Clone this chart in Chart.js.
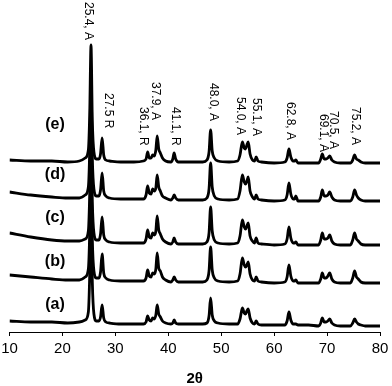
<!DOCTYPE html>
<html>
<head>
<meta charset="utf-8">
<script src="https://cdn.jsdelivr.net/npm/chart.js@4.4.1/dist/chart.umd.min.js"></script>
<style>
  html, body { margin: 0; padding: 0; background: #fff; }
  #wrap { width: 392px; height: 386px; }
</style>
</head>
<body>
<div id="wrap"><canvas id="xrdChart" width="392" height="386"></canvas></div>
<script>
// 2θ positions (shared by all patterns)
const twoTheta = [10, 14, 18, 21, 23.2, 24.3, 24.9, 25.15, 25.4, 25.65, 25.95, 26.4, 26.9, 27.2, 27.5, 27.8, 28.2, 28.9,
    31, 33.5, 35.3, 35.8, 36.1, 36.4, 36.75, 37.05, 37.35, 37.65, 37.9, 38.2, 38.5, 38.9, 39.5, 40.5, 40.85, 41.1, 41.4, 41.9,
    44, 46.5, 47.3, 47.7, 48.0, 48.3, 48.7, 49.4, 51.5, 53.1, 53.55, 54.0, 54.35, 54.6, 54.85, 55.1, 55.45, 55.9, 56.3, 56.6,
    56.95, 57.6, 60, 62.0, 62.45, 62.8, 63.15, 63.6, 63.85, 64.1, 64.5, 66.5, 68.4, 68.8, 69.1, 69.45, 69.8, 70.15, 70.5,
    70.9, 71.4, 72.5, 74.4, 74.85, 75.2, 75.55, 75.9, 76.4, 77.2, 80];

// intensities (a.u., stacked with offsets)
const patternA = [11, 10, 10, 9, 10, 12, 20, 56, 128, 50, 18, 11, 11, 15, 27, 14, 10, 9,
    8, 8, 8, 10, 16, 12, 11, 14, 13, 17, 27, 18, 15, 11, 9, 8, 9, 12, 9, 8,
    8, 8, 9, 16, 34, 17, 11, 9, 8, 8, 13, 24, 19, 18, 21, 23, 14, 9, 8, 11,
    8, 7, 7, 7, 11, 20, 12, 8, 8, 8, 7, 7, 6, 9, 14, 10, 10, 11, 13,
    9, 7, 6, 6, 9, 13, 10, 8, 7, 6, 6];
const patternB = [57, 55, 53, 52, 52, 55, 63, 98, 168, 92, 61, 54, 54, 60, 78, 59, 54, 52,
    51, 51, 51, 54, 62, 56, 55, 59, 58, 63, 79, 64, 61, 55, 52, 50, 52, 55, 52, 50,
    50, 50, 52, 61, 85, 62, 54, 51, 50, 51, 58, 74, 67, 65, 67, 70, 58, 52, 51, 55,
    51, 50, 49, 50, 55, 67, 56, 51, 51, 52, 49, 49, 49, 53, 59, 54, 54, 56, 59,
    53, 50, 49, 49, 54, 61, 55, 53, 50, 49, 49];
const patternC = [99, 95, 92, 91, 91, 93, 101, 137, 207, 130, 99, 92, 92, 98, 115, 97, 92, 90,
    89, 89, 89, 93, 102, 95, 94, 99, 97, 101, 116, 102, 98, 93, 90, 88, 90, 94, 90, 88,
    88, 88, 90, 99, 125, 101, 92, 89, 88, 89, 96, 112, 105, 103, 106, 109, 96, 91, 89, 94,
    89, 88, 87, 88, 93, 105, 94, 89, 89, 90, 87, 87, 87, 92, 99, 93, 93, 94, 97,
    91, 88, 87, 87, 92, 99, 93, 91, 88, 87, 87];
const patternD = [140, 137, 135, 134, 134, 137, 145, 180, 251, 174, 143, 136, 136, 142, 159, 141, 136, 134,
    133, 133, 133, 137, 146, 139, 138, 143, 141, 144, 157, 145, 141, 136, 134, 132, 134, 137, 134, 132,
    132, 132, 134, 143, 169, 145, 136, 133, 132, 133, 141, 157, 150, 148, 151, 155, 141, 135, 133, 137,
    133, 132, 131, 132, 137, 149, 138, 133, 133, 136, 131, 131, 131, 135, 142, 136, 136, 137, 140,
    135, 132, 131, 131, 135, 142, 137, 134, 132, 131, 131];
const patternE = [172, 171, 171, 170, 171, 174, 182, 217, 287, 211, 180, 173, 173, 178, 194, 177, 172, 171,
    170, 170, 171, 173, 180, 174, 174, 177, 176, 182, 196, 183, 179, 174, 171, 170, 173, 179, 173, 170,
    170, 170, 172, 180, 202, 181, 174, 171, 170, 171, 177, 190, 184, 183, 187, 190, 178, 172, 171, 175,
    171, 170, 169, 170, 174, 183, 175, 171, 171, 172, 169, 169, 169, 173, 178, 173, 173, 174, 176,
    172, 170, 169, 169, 172, 177, 173, 172, 170, 169, 169];

const sampleNames = ['(a)', '(b)', '(c)', '(d)', '(e)'];
const sampleLabelY = [27, 70, 114, 157, 207];

// peak assignments (A = anatase, R = rutile)
const peakTexts = ['25.4, A', '27.5 R', '36.1, R', '37.9, A', '41.1, R', '48.0, A', '54.0, A', '55.1, A',
    '62.8, A', '69.1, A', '70.5, A', '75.2, A'];
const peakTextX = [24.83, 28.61, 35.22, 37.49, 41.27, 48.45, 53.55, 56.57, 62.99, 69.23, 71.12, 75.27];
const peakTextY = [330, 239, 225, 250, 225, 249, 235, 234, 230, 218, 221, 225];

const xTicks = [10, 20, 30, 40, 50, 60, 70, 80];

const FONT = 'Arial, "Liberation Sans", sans-serif';

const patterns = [patternA, patternB, patternC, patternD, patternE];

const annotations = {
    id: 'annotations',
    afterDatasetsDraw(chart) {
        const { ctx, scales: { x, y } } = chart;
        ctx.save();
        ctx.fillStyle = '#000';
        // sample names
        ctx.font = 'bold 16px ' + FONT;
        ctx.textAlign = 'center';
        ctx.textBaseline = 'middle';
        sampleNames.forEach((name, i) => {
            ctx.fillText(name, x.getPixelForValue(18.6), y.getPixelForValue(sampleLabelY[i]));
        });
        // rotated peak labels
        ctx.font = '12px ' + FONT;
        ctx.textAlign = 'left';
        peakTexts.forEach((t, i) => {
            ctx.save();
            ctx.translate(x.getPixelForValue(peakTextX[i]), y.getPixelForValue(peakTextY[i]));
            ctx.rotate(Math.PI / 2);
            ctx.fillText(t, 0, 0);
            ctx.restore();
        });
        ctx.restore();
    }
};

new Chart(document.getElementById('xrdChart').getContext('2d'), {
    type: 'line',
    data: {
        datasets: patterns.map((p, i) => ({
            label: sampleNames[i],
            data: twoTheta.map((t, j) => ({ x: t, y: p[j] })),
            borderColor: '#000',
            borderWidth: 2.8,
            pointRadius: 0,
            cubicInterpolationMode: 'monotone',
            fill: false
        }))
    },
    options: {
        responsive: false,
        animation: false,
        layout: { padding: { left: 0, right: 0, top: 0, bottom: 0 } },
        plugins: { legend: { display: false }, tooltip: { enabled: false } },
        scales: {
            x: {
                type: 'linear',
                min: 10,
                max: 80,
                afterBuildTicks: (s) => { s.ticks = xTicks.map(v => ({ value: v })); },
                afterFit: (s) => { s.paddingLeft = 9.5; s.paddingRight = 12; },
                grid: { display: true, drawOnChartArea: false, drawTicks: true, tickLength: 4, color: '#000' },
                border: { display: true, color: '#000', width: 1 },
                ticks: { color: '#000', font: { family: FONT, size: 15, lineHeight: 1 }, padding: 5, maxRotation: 0 },
                title: { display: true, text: '2θ', color: '#000', font: { family: FONT, size: 15, weight: 'bold', lineHeight: 1 }, padding: { top: 10, bottom: 0 } }
            },
            y: {
                display: false,
                min: 0,
                max: 332
            }
        }
    },
    plugins: [annotations]
});
</script>
</body>
</html>
